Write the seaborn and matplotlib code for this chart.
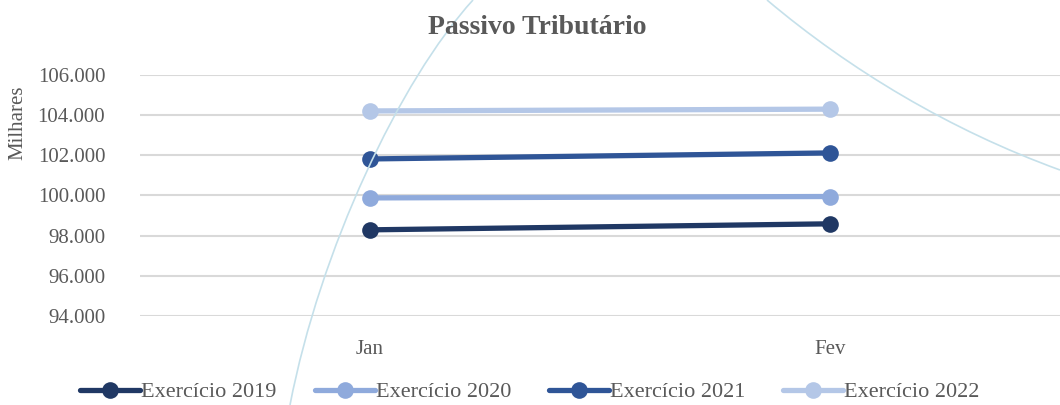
import pandas as pd
import numpy as np
import matplotlib
matplotlib.use("Agg")
import matplotlib.pyplot as plt
import seaborn as sns
from matplotlib.path import Path
from matplotlib.patches import PathPatch

# dados do gráfico
meses = ["Jan", "Fev"]
series = ["Exercício 2019", "Exercício 2020", "Exercício 2021", "Exercício 2022"]
valores_2019 = [98290, 98590]
valores_2020 = [99880, 99950]
valores_2021 = [101820, 102120]
valores_2022 = [104210, 104300]
cores = ["#203864", "#8FAADC", "#2F5597", "#B4C7E7"]
ticks_y = [94000, 96000, 98000, 100000, 102000, 104000, 106000]

df = pd.DataFrame({
    "mes": meses * 4,
    "serie": np.repeat(series, 2),
    "valor": valores_2019 + valores_2020 + valores_2021 + valores_2022,
})

sns.set_style("white")
plt.rcParams["font.family"] = ["Liberation Serif", "DejaVu Serif"]
cinza = "#595959"

fig = plt.figure(figsize=(10.6, 4.05), dpi=100)

# curvas decorativas do fundo (em pixels da figura)
def curva(p):
    verts = [(x / 1060, 1 - y / 405) for x, y in p]
    path = Path(verts, [Path.MOVETO, Path.CURVE4, Path.CURVE4, Path.CURVE4])
    fig.patches.append(PathPatch(path, transform=fig.transFigure, fill=False,
                                 edgecolor="#C5E0EA", lw=1.2, zorder=0))

curva([(290, 405), (320, 250), (400, 80), (473, 0)])
curva([(767, 0), (850, 70), (950, 130), (1060, 170)])

ax = fig.add_axes([140 / 1060, 89 / 405, 920 / 1060, 241 / 405])
ax.patch.set_alpha(0)

sns.lineplot(data=df, x="mes", y="valor", hue="serie", palette=cores,
             marker="o", markersize=12, markeredgewidth=0, linewidth=3.8,
             ax=ax, legend=True)

ax.set_xlim(-0.5, 1.5)
ax.set_ylim(94000, 106000)
ax.set_yticks(ticks_y)
ax.set_yticklabels([f"{v:,.0f}".replace(",", ".") for v in ticks_y])
ax.grid(axis="y", color="#D9D9D9", lw=1.5)
ax.set_axisbelow(True)
for s in ax.spines.values():
    s.set_visible(False)
ax.tick_params(axis="both", length=0, labelsize=15, labelcolor=cinza)
ax.tick_params(axis="x", pad=17)
ax.tick_params(axis="y", pad=25)
ax.set_xlabel("")
ax.set_ylabel("")

fig.text(18 / 1060, 1 - 123 / 405, "Milhares", rotation=90, ha="center",
         va="center", fontsize=15, color=cinza)
fig.text(537 / 1060, 1 - 28 / 405, "Passivo Tributário", ha="center",
         va="center", fontsize=20, fontweight="bold", color=cinza)

handles, labels = ax.get_legend_handles_labels()
ax.get_legend().remove()
leg = fig.legend(handles, labels, loc="center", bbox_to_anchor=(0.5, 1 - 392 / 405),
                 ncol=4, frameon=False, fontsize=16, handlelength=2.7,
                 handletextpad=0.05, columnspacing=1.7)
for t in leg.get_texts():
    t.set_color(cinza)

fig.savefig("out.png", dpi=100)
